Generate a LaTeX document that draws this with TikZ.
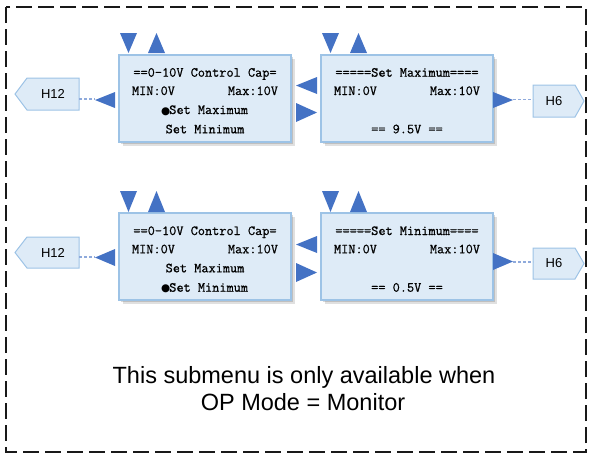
\documentclass[tikz,border=0pt]{standalone}
\usepackage{fontspec}
\setmainfont{Liberation Sans}
\newfontfamily\dejavu{DejaVu Sans}
\newfontfamily\monofam{Latin Modern Mono}[FakeBold=0.7]
\usetikzlibrary{shadows}
\definecolor{boxfill}{HTML}{DEEBF7}
\definecolor{boxline}{HTML}{9DC3E6}
\definecolor{tri}{HTML}{4472C4}
\definecolor{dotline}{HTML}{8FAADC}
\newcommand{\dotmark}{\makebox[7.3pt]{\dejavu\fontsize{10.5}{10.5}\selectfont ●}}
\begin{document}
\begin{tikzpicture}[x=1pt,y=-1pt,
  menubox/.style={draw=boxline, fill=boxfill, line width=1.2pt, minimum width=172pt, minimum height=87pt, inner sep=0pt,
    drop shadow={shadow xshift=3.5pt,shadow yshift=-3.5pt,opacity=.12,fill=black},
    drop shadow={shadow xshift=2pt,shadow yshift=-2pt,opacity=.15,fill=black}},
  mono/.style={font=\monofam\fontsize{13.9}{16}\selectfont, inner sep=0pt, anchor=base},
  tagtext/.style={font=\fontsize{13}{13}\selectfont, inner sep=0pt},
  tagshape/.style={draw=boxline, fill=boxfill, line width=1pt},
  trifill/.style={fill=tri},
  link/.style={draw=dotline, line width=1.2pt, dash pattern=on 3pt off 2pt},
  frame/.style={draw=black!90, line width=1.8pt, dash pattern=on 16pt off 6pt},
  note/.style={font=\fontsize{23.5}{27}\selectfont, inner sep=0pt, anchor=base}]
\useasboundingbox (0,0) rectangle (593,453);
\draw[frame] (6,7) rectangle (586,452);

% menu boxes
\node[menubox] (m1) at (205,98.5) {};
\node[menubox] (m2) at (407,98.5) {};
\node[menubox] (m3) at (205,256.5) {};
\node[menubox] (m4) at (407,256.5) {};

% texts box 1
\node[mono] (m1a) at (205,76.7) {==0-10V Control Cap=};
\node[mono] (m1b) at (205,95) {\makebox[146pt]{MIN:0V\hfill Max:10V}};
\node[mono] (m1c) at (205,114) {\dotmark Set Maximum};
\node[mono] (m1d) at (205,133.3) {Set Minimum};
% texts box 2
\node[mono] (m2a) at (407,76.7) {=====Set Maximum====};
\node[mono] (m2b) at (407,95) {\makebox[146pt]{MIN:0V\hfill Max:10V}};
\node[mono] (m2c) at (407,133.3) {== 9.5V ==};
% texts box 3
\node[mono] (m3a) at (205,235) {==0-10V Control Cap=};
\node[mono] (m3b) at (205,253.3) {\makebox[146pt]{MIN:0V\hfill Max:10V}};
\node[mono] (m3c) at (205,272.3) {Set Maximum};
\node[mono] (m3d) at (205,291.7) {\dotmark Set Minimum};
% texts box 4
\node[mono] (m4a) at (407,235) {=====Set Minimum====};
\node[mono] (m4b) at (407,253.3) {\makebox[146pt]{MIN:0V\hfill Max:10V}};
\node[mono] (m4c) at (407,291.7) {== 0.5V ==};

% top triangles
\fill[trifill] (120,33) -- (137,33) -- (128.5,53) -- cycle;
\fill[trifill] (148,53) -- (165,53) -- (156.5,33) -- cycle;
\fill[trifill] (322,33) -- (339,33) -- (330.5,53) -- cycle;
\fill[trifill] (350,53) -- (367,53) -- (358.5,33) -- cycle;
\fill[trifill] (120,191) -- (137,191) -- (128.5,212) -- cycle;
\fill[trifill] (148,212) -- (165,212) -- (156.5,191) -- cycle;
\fill[trifill] (322,191) -- (339,191) -- (330.5,212) -- cycle;
\fill[trifill] (350,212) -- (367,212) -- (358.5,191) -- cycle;
% side triangles
\fill[trifill] (115,92) -- (115,108) -- (95,100) -- cycle;
\fill[trifill] (115,249) -- (115,266) -- (95,257.5) -- cycle;
\fill[trifill] (317,77) -- (317,94) -- (296,85.5) -- cycle;
\fill[trifill] (296,103) -- (296,122) -- (317,112.5) -- cycle;
\fill[trifill] (317,236) -- (317,253) -- (296,244.5) -- cycle;
\fill[trifill] (296,263) -- (296,282) -- (317,272.5) -- cycle;
\fill[trifill] (493,92) -- (493,108) -- (513,100) -- cycle;
\fill[trifill] (493,253) -- (493,270) -- (513,261.5) -- cycle;

% tags
\path[tagshape] (79,78) -- (79,110) -- (27,110) -- (15,94) -- (27,78) -- cycle;
\node[tagtext] (h12a) at (53,94) {H12};
\path[tagshape] (79,237) -- (79,268) -- (27,268) -- (15,252.5) -- (27,237) -- cycle;
\node[tagtext] (h12b) at (53,252.5) {H12};
\path[tagshape] (533,85) -- (575,85) -- (584,101) -- (575,117) -- (533,117) -- cycle;
\node[tagtext] (h6a) at (554,101) {H6};
\path[tagshape] (533,248) -- (575,248) -- (584,263.5) -- (575,279) -- (533,279) -- cycle;
\node[tagtext] (h6b) at (554,263.5) {H6};

% links
\coordinate (l1a) at (79,99);   \coordinate (l1b) at (95,99);
\coordinate (l2a) at (79,257);  \coordinate (l2b) at (95,257);
\coordinate (l3a) at (513,99.5); \coordinate (l3b) at (533,99.5);
\coordinate (l4a) at (513,262); \coordinate (l4b) at (533,262);
\draw[link] (l1a) -- (l1b);
\draw[link] (l2a) -- (l2b);
\draw[link] (l3a) -- (l3b);
\draw[link] (l4a) -- (l4b);

% note
\node[note] (n1) at (304,383) {This submenu is only available when};
\node[note] (n2) at (303,410) {OP Mode = Monitor};
\end{tikzpicture}
\end{document}
